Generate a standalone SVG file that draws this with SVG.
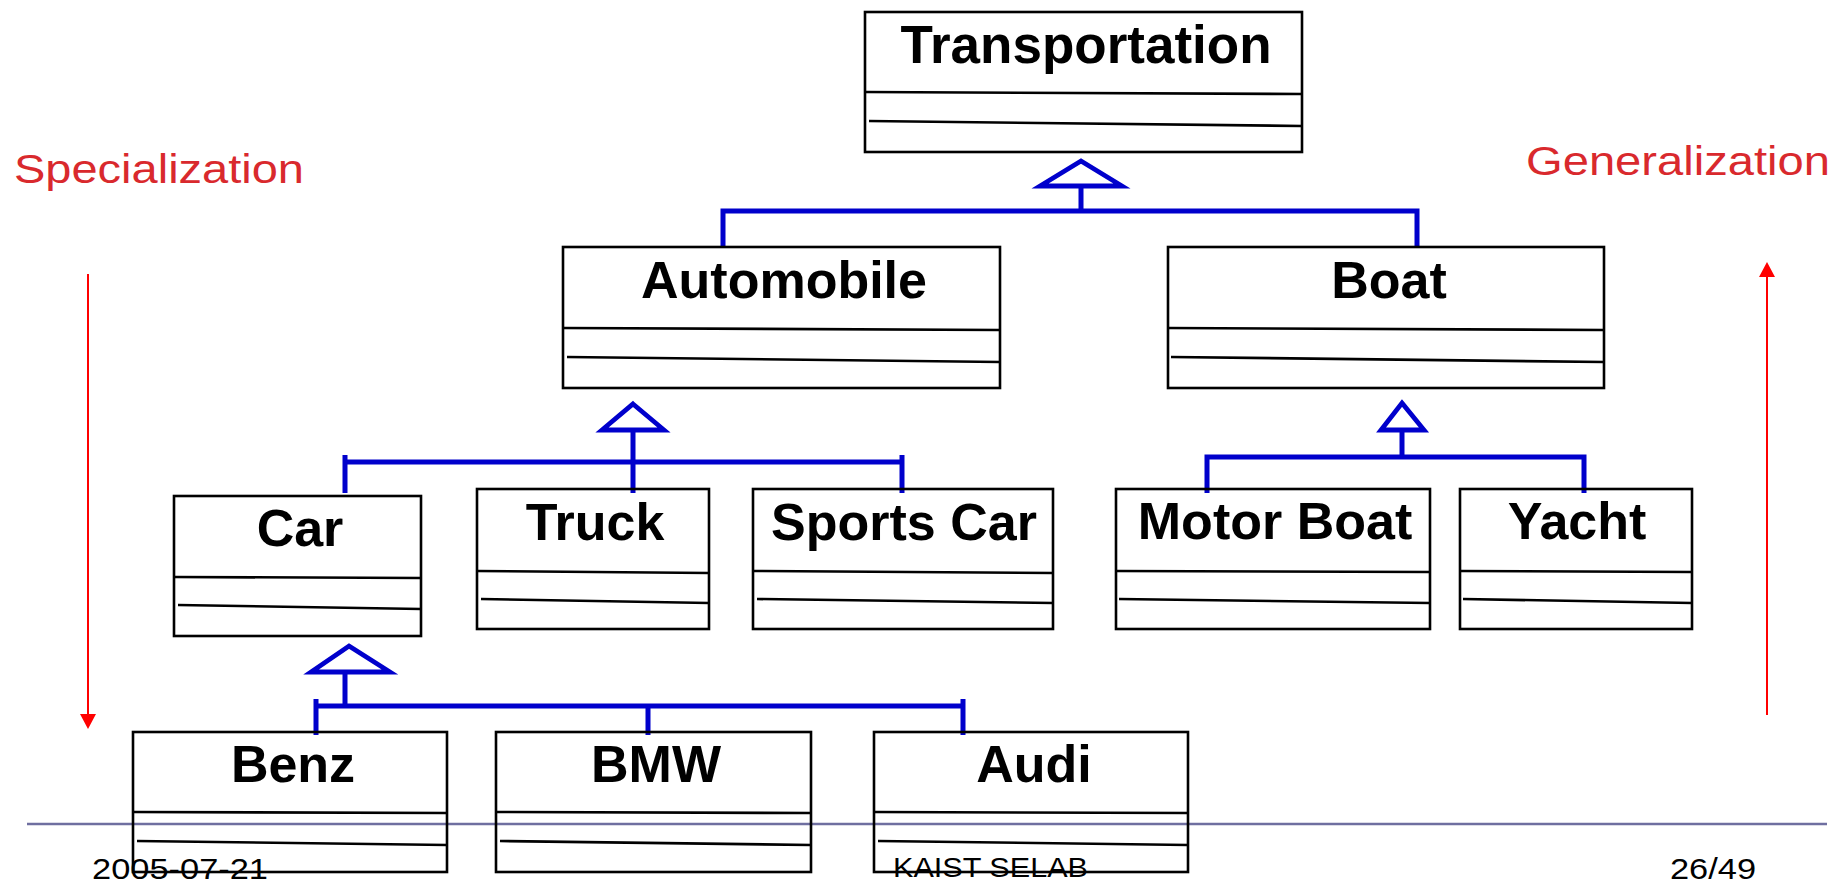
<svg xmlns="http://www.w3.org/2000/svg" width="1847" height="885" viewBox="0 0 1847 885">
<style>
.box{fill:none;stroke:#000;stroke-width:2.6}
.div{stroke:#000;stroke-width:2.6;fill:none}
.name{font-family:"Liberation Sans",Arial,sans-serif;font-weight:bold;font-size:52px;fill:#000;text-anchor:middle}
.conn{stroke:#0000CC;stroke-width:5;fill:none;stroke-linecap:butt}
.tri{stroke:#0000CC;stroke-width:4.8;fill:#fff;stroke-linejoin:miter}
.lbl{font-family:"Liberation Sans",Arial,sans-serif;font-size:40px;fill:#D9292D}
.foot{font-family:"Liberation Sans",Arial,sans-serif;fill:#000}
.red{stroke:#FF0000;stroke-width:2;fill:none}
</style>
<rect width="1847" height="885" fill="#fff"/>

<line x1="27" y1="824" x2="1827" y2="824" stroke="#6F6FA0" stroke-width="2.5"/>

<g id="connectors">
  <path class="conn" d="M1081 188 V211 M723 247 V211 H1417 V247"/>
  <path class="tri" d="M1081 161 L1122 186 L1040 186 Z"/>
  <path class="conn" d="M633 430 V493 M345 493 V455 M345 462 H902 M902 455 V493"/>
  <path class="tri" d="M633 404 L664 430 L602 430 Z"/>
  <path class="conn" d="M1402 430 V457 M1207 493 V457 H1584 V493"/>
  <path class="tri" d="M1402 403 L1424 430 L1381 430 Z"/>
  <path class="conn" d="M345 672 V706 M316 699 V735 M316 706 H963 M963 699 V735 M648 706 V735"/>
  <path class="tri" d="M349 646 L390 672 L311 672 Z"/>
</g>

<g id="Transportation">
  <rect class="box" x="865" y="12" width="437" height="140"/>
  <path class="div" d="M865 92 L1302 94 M869 121 L1302 126"/>
  <text class="name" x="1086" y="63" style="font-size:53px">Transportation</text>
</g>
<g id="Automobile">
  <rect class="box" x="563" y="247" width="437" height="141"/>
  <path class="div" d="M563 328 L1000 330 M567 357 L1000 362"/>
  <text class="name" x="784" y="298">Automobile</text>
</g>
<g id="Boat">
  <rect class="box" x="1168" y="247" width="436" height="141"/>
  <path class="div" d="M1168 328 L1604 330 M1171 357 L1604 362"/>
  <text class="name" x="1389" y="298">Boat</text>
</g>
<g id="Car">
  <rect class="box" x="174" y="496" width="247" height="140"/>
  <path class="div" d="M174 577 L421 578 M178 605 L421 609"/>
  <text class="name" x="300" y="546">Car</text>
</g>
<g id="Truck">
  <rect class="box" x="477" y="489" width="232" height="140"/>
  <path class="div" d="M477 571 L709 573 M481 599 L709 603"/>
  <text class="name" x="595" y="540">Truck</text>
</g>
<g id="SportsCar">
  <rect class="box" x="753" y="489" width="300" height="140"/>
  <path class="div" d="M753 571 L1053 573 M757 599 L1053 603"/>
  <text class="name" x="904" y="540">Sports Car</text>
</g>
<g id="MotorBoat">
  <rect class="box" x="1116" y="489" width="314" height="140"/>
  <path class="div" d="M1116 571 L1430 572 M1119 599 L1430 603"/>
  <text class="name" x="1275" y="539">Motor Boat</text>
</g>
<g id="Yacht">
  <rect class="box" x="1460" y="489" width="232" height="140"/>
  <path class="div" d="M1460 571 L1692 572 M1463 599 L1692 603"/>
  <text class="name" x="1577" y="539">Yacht</text>
</g>
<g id="Benz">
  <rect class="box" x="133" y="732" width="314" height="140"/>
  <path class="div" d="M133 812 L447 813 M137 841 L447 845"/>
  <text class="name" x="293" y="782">Benz</text>
</g>
<g id="BMW">
  <rect class="box" x="496" y="732" width="315" height="140"/>
  <path class="div" d="M496 812 L811 813 M500 841 L811 845"/>
  <text class="name" x="656" y="782">BMW</text>
</g>
<g id="Audi">
  <rect class="box" x="874" y="732" width="314" height="140"/>
  <path class="div" d="M874 812 L1188 813 M878 841 L1188 845"/>
  <text class="name" x="1034" y="782">Audi</text>
</g>

<g id="specialization">
  <text class="lbl" x="14" y="183" textLength="290" lengthAdjust="spacingAndGlyphs">Specialization</text>
  <line class="red" x1="88" y1="274" x2="88" y2="716"/>
  <polygon points="80,714 96,714 88,729" fill="#FF0000"/>
</g>
<g id="generalization">
  <text class="lbl" x="1526" y="175" textLength="304" lengthAdjust="spacingAndGlyphs">Generalization</text>
  <line class="red" x1="1767" y1="715" x2="1767" y2="276"/>
  <polygon points="1759,277 1775,277 1767,262" fill="#FF0000"/>
</g>

<g id="footer">
  <text class="foot" x="92" y="879" font-size="30" textLength="176" lengthAdjust="spacingAndGlyphs">2005-07-21</text>
  <text class="foot" x="893" y="877" font-size="28" textLength="195" lengthAdjust="spacingAndGlyphs">KAIST SELAB</text>
  <text class="foot" x="1670" y="879" font-size="30" textLength="86" lengthAdjust="spacingAndGlyphs">26/49</text>
</g>
</svg>
